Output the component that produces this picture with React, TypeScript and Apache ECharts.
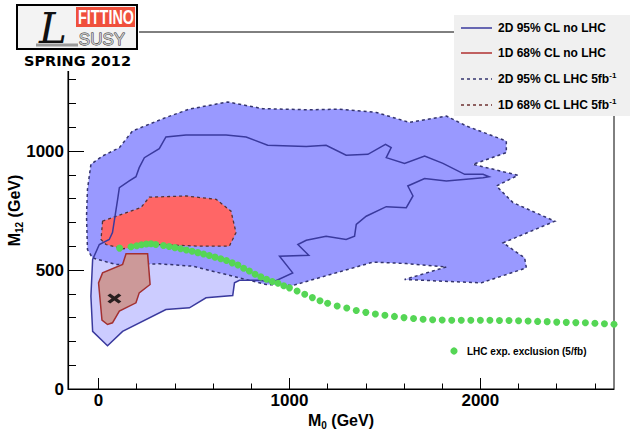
import React, { useEffect, useRef } from "react";
import * as echarts from "echarts";

// ---- axis ranges & ticks ----
const xRange = [-160, 2700];
const yRange = [0, 1500];
const xMajor = [0, 1000, 2000];
const xMinor = [200, 400, 600, 800, 1200, 1400, 1600, 1800, 2200, 2400, 2600];
const yMajor = [0, 500, 1000];
const yMinor = [100, 200, 300, 400, 600, 700, 800, 900, 1100, 1200, 1300, 1400];

// ---- 2D 95% CL no LHC (solid blue contour) ----
const noLhc95M0 = [47, -31, -40, -31, 4, 56, 73, 100, 109, 161, 196, 213, 240, 318, 353, 458, 668, 773, 886, 1088, 1192, 1297, 1411, 1503, 1533, 1507, 1603, 1708, 1804, 1918, 2014, 2045, 2014, 1822, 1708, 1620, 1647, 1612, 1507, 1402, 1350, 1341, 1297, 1192, 1088, 1044, 1101, 948, 1017, 912, 843, 738, 712, 703, 563, 476, 353, 126];
const noLhc95M12 = [182, 242, 390, 544, 607, 628, 657, 797, 846, 874, 892, 930, 972, 1010, 1059, 1067, 1067, 1059, 1024, 1019, 1024, 982, 986, 1028, 1014, 972, 948, 979, 948, 902, 902, 892, 888, 874, 884, 853, 811, 762, 766, 726, 692, 642, 628, 642, 625, 607, 562, 558, 488, 449, 457, 457, 446, 393, 383, 341, 334, 242];

// ---- 2D 95% CL LHC 5fb-1 (dashed blue contour) ----
const lhc95M0 = [-40, -58, -63, -58, -32, 91, 318, 493, 633, 773, 878, 1017, 1437, 1612, 1822, 1603, 2005, 2241, 2232, 2119, 2390, 2171, 2084, 2197, 1961, 2136, 2136, 1927, 1822, 1629, 1455, 1262, 1105, 860, 676, 476, 353, 178, 109, 21];
const lhc95M12 = [944, 839, 726, 586, 551, 523, 526, 516, 488, 460, 439, 435, 533, 527, 513, 460, 446, 509, 551, 614, 705, 783, 853, 898, 944, 993, 1042, 1105, 1147, 1120, 1162, 1176, 1173, 1178, 1206, 1176, 1141, 1084, 1014, 979];

// ---- 1D 68% CL LHC 5fb-1 (dashed red contour) ----
const lhc68M0 = [21, 13, 39, 126, 231, 318, 528, 685, 720, 694, 616, 458, 266, 222, 73];
const lhc68M12 = [705, 628, 607, 589, 600, 607, 600, 600, 657, 747, 797, 811, 806, 762, 720];

// ---- 1D 68% CL no LHC (solid red contour) ----
const noLhc68M0 = [144, 257, 270, 213, 196, 109, 73, 47, 18, 0, 21, 126];
const noLhc68M12 = [568, 568, 439, 404, 362, 327, 278, 271, 289, 446, 488, 523];

// ---- best fit point ----
const bestFitM0 = [83];
const bestFitM12 = [380];

// ---- LHC exp. exclusion (5/fb) ----
const exclM0 = [110, 170, 200, 225, 250, 275, 300, 340, 370, 400, 430, 460, 490, 520, 550, 580, 610, 640, 670, 700, 730, 760, 790, 820, 850, 880, 910, 940, 970, 1000, 1040, 1080, 1120, 1160, 1200, 1250, 1300, 1350, 1400, 1450, 1500, 1550, 1600, 1650, 1700, 1750, 1800, 1850, 1900, 1950, 2000, 2050, 2100, 2150, 2200, 2250, 2300, 2350, 2400, 2450, 2500, 2550, 2600, 2650, 2700];
const exclM12 = [592, 598, 602, 606, 609, 610, 607, 603, 599, 594, 589, 584, 579, 573, 567, 561, 554, 547, 540, 530, 521, 507, 496, 482, 471, 461, 452, 444, 434, 425, 412, 398, 384, 371, 360, 349, 340, 330, 322, 315, 310, 305, 300, 296, 293, 291, 290, 289, 289, 289, 289, 289, 288, 288, 287, 286, 284, 283, 281, 280, 279, 278, 276, 274, 272];

const legendItems = [
  { label: "2D 95% CL no LHC", sup: "", color: "#3a3a9e", dash: null },
  { label: "1D 68% CL no LHC", sup: "", color: "#b03030", dash: null },
  { label: "2D 95% CL LHC 5fb", sup: "-1", color: "#34346e", dash: [3, 3] },
  { label: "1D 68% CL LHC 5fb", sup: "-1", color: "#6e3030", dash: [3, 3] },
];

const FONT = "'Liberation Sans', Arial, Helvetica, sans-serif";

function polygonSeries(name: string, xs: number[], ys: number[], style: any, z: number) {
  return {
    type: "custom",
    name,
    z,
    silent: true,
    coordinateSystem: "cartesian2d",
    data: xs.map((x, i) => [x, ys[i]]),
    encode: { x: 0, y: 1 },
    renderItem: (params: any, api: any) => {
      if (params.dataIndex !== 0) return null;
      const points = xs.map((x, i) => api.coord([x, ys[i]]));
      return { type: "polygon", shape: { points }, style };
    },
  };
}

export default function App() {
  const ref = useRef<HTMLDivElement>(null);
  useEffect(() => {
    document.body.style.margin = "0";
    const chart = echarts.init(ref.current!, null, { renderer: "svg" });

    const legendGraphics: any[] = [
      { type: "rect", z: 100, shape: { x: 454, y: 15, width: 176, height: 101 }, style: { fill: "#f0f0f0" } },
    ];
    const legendY = [28, 53, 79, 105];
    legendItems.forEach((it, i) => {
      legendGraphics.push({
        type: "line",
        z: 101,
        shape: { x1: 461, y1: legendY[i], x2: 492, y2: legendY[i] },
        style: { stroke: it.color, lineWidth: 1.5, lineDash: it.dash || undefined },
      });
      legendGraphics.push({
        type: "text",
        z: 101,
        x: 498,
        y: legendY[i],
        style: {
          text: it.sup ? `{a|${it.label}}{s|${it.sup}}` : `{a|${it.label}}`,
          align: "left",
          verticalAlign: "middle",
          textAlign: "left",
          textVerticalAlign: "middle",
          fill: "#000",
          rich: {
            a: { fontFamily: FONT, fontWeight: "bold", fontSize: 12, lineHeight: 16, fill: "#000", color: "#000" },
            s: { fontFamily: FONT, fontWeight: "bold", fontSize: 8, lineHeight: 8, verticalAlign: "top", fill: "#000", color: "#000" },
          },
        },
      });
    });
    legendGraphics.push({ type: "circle", z: 101, shape: { cx: 454, cy: 351, r: 3.6 }, style: { fill: "#55d655" } });
    legendGraphics.push({
      type: "text",
      z: 101,
      x: 467,
      y: 351,
      style: {
        text: "LHC exp. exclusion (5/fb)",
        font: `bold 10px ${FONT}`,
        fill: "#000",
        align: "left",
        verticalAlign: "middle",
        textAlign: "left",
        textVerticalAlign: "middle",
      },
    });

    const logo: any[] = [
      { type: "rect", z: 100, shape: { x: 0, y: 0, width: 139, height: 71 }, style: { fill: "#ffffff" } },
      { type: "rect", z: 101, shape: { x: 17, y: 5, width: 120, height: 44 }, style: { fill: "#f3f3f3", stroke: "#000", lineWidth: 2 } },
      { type: "rect", z: 102, shape: { x: 76, y: 7, width: 59, height: 20 }, style: { fill: "#f0503c" } },
      {
        type: "text", z: 103, x: 106, y: 17.5, scaleX: 0.72,
        style: { text: "FITTINO", font: `bold 20px ${FONT}`, fill: "#fff", align: "center", verticalAlign: "middle", textAlign: "center", textVerticalAlign: "middle" },
      },
      { type: "line", z: 102, shape: { x1: 36, y1: 45, x2: 78, y2: 45 }, style: { stroke: "#9a9a9a", lineWidth: 3 } },
      {
        type: "text", z: 104, x: 53, y: 28,
        style: { text: "L", font: `italic 42px 'DejaVu Serif', serif`, fill: "#111", align: "center", verticalAlign: "middle", textAlign: "center", textVerticalAlign: "middle" },
      },
      {
        type: "text", z: 103, x: 102, y: 39,
        style: { text: "SUSY", font: `17px ${FONT}`, fill: "#c4c4c4", stroke: "#222", lineWidth: 0.8, align: "center", verticalAlign: "middle", textAlign: "center", textVerticalAlign: "middle" },
      },
      {
        type: "text", z: 103, x: 77.5, y: 61,
        style: { text: "SPRING 2012", font: `bold 14.5px 'DejaVu Sans', sans-serif`, fill: "#000", align: "center", verticalAlign: "middle", textAlign: "center", textVerticalAlign: "middle" },
      },
    ];

    const axisText = { fontFamily: FONT, fontWeight: "bold", fontSize: 17, color: "#000", formatter: (v: number) => String(v) };

    chart.setOption({
      animation: false,
      backgroundColor: "#ffffff",
      grid: {
        left: 68, right: 16, top: 32, bottom: 43,
        show: true, borderColor: "#000", borderWidth: 1, backgroundColor: "transparent",
        containLabel: false, outerBoundsMode: "none",
      },
      xAxis: [
        {
          type: "value", min: xRange[0], max: xRange[1], position: "bottom",
          name: "{m|M}{s|0}{m| (GeV)}", nameLocation: "middle", nameGap: 21, nameMoveOverlap: false,
          nameTextStyle: {
            rich: {
              m: { fontFamily: FONT, fontWeight: "bold", fontSize: 16, lineHeight: 20, color: "#000" },
              s: { fontFamily: FONT, fontWeight: "bold", fontSize: 10, lineHeight: 10, verticalAlign: "bottom", color: "#000" },
            },
          },
          axisLine: { show: true, onZero: false, lineStyle: { color: "#000", width: 1.2 } },
          axisTick: { show: true, inside: true, length: 11, customValues: xMajor, lineStyle: { color: "#000", width: 1 } },
          axisLabel: { show: true, customValues: xMajor, margin: 3, ...axisText },
          splitLine: { show: false },
        },
        {
          type: "value", min: xRange[0], max: xRange[1], position: "bottom",
          axisLine: { show: false, onZero: false },
          axisTick: { show: true, inside: true, length: 5.5, customValues: xMinor, lineStyle: { color: "#000", width: 1 } },
          axisLabel: { show: false },
          splitLine: { show: false },
        },
      ],
      yAxis: [
        {
          type: "value", min: yRange[0], max: yRange[1], position: "left",
          name: "{m|M}{s|12}{m| (GeV)}", nameLocation: "middle", nameGap: 44, nameRotate: 90, nameMoveOverlap: false,
          nameTextStyle: {
            rich: {
              m: { fontFamily: FONT, fontWeight: "bold", fontSize: 16, lineHeight: 20, color: "#000" },
              s: { fontFamily: FONT, fontWeight: "bold", fontSize: 10, lineHeight: 10, verticalAlign: "bottom", color: "#000" },
            },
          },
          axisLine: { show: true, onZero: false, lineStyle: { color: "#000", width: 1.2 } },
          axisTick: { show: true, inside: true, length: 16, customValues: yMajor, lineStyle: { color: "#000", width: 1 } },
          axisLabel: { show: true, customValues: yMajor, margin: 4, ...axisText },
          splitLine: { show: false },
        },
        {
          type: "value", min: yRange[0], max: yRange[1], position: "left",
          axisLine: { show: false, onZero: false },
          axisTick: { show: true, inside: true, length: 8, customValues: yMinor, lineStyle: { color: "#000", width: 1 } },
          axisLabel: { show: false },
          splitLine: { show: false },
        },
      ],
      series: [
        polygonSeries("2D 95% CL no LHC fill", noLhc95M0, noLhc95M12, { fill: "#ccccff", stroke: "none", lineWidth: 0 }, 1),
        polygonSeries("2D 95% CL LHC 5fb-1", lhc95M0, lhc95M12, { fill: "#9999ff", stroke: "#34346e", lineWidth: 1.5, lineDash: [3, 3] }, 2),
        polygonSeries("1D 68% CL LHC 5fb-1", lhc68M0, lhc68M12, { fill: "#ff6666", stroke: "#553333", lineWidth: 1.3, lineDash: [3, 3] }, 3),
        polygonSeries("1D 68% CL no LHC fill", noLhc68M0, noLhc68M12, { fill: "#cc9999", stroke: "none", lineWidth: 0 }, 4),
        polygonSeries("2D 95% CL no LHC", noLhc95M0, noLhc95M12, { fill: "none", stroke: "#3a3a9e", lineWidth: 1.5 }, 5),
        polygonSeries("1D 68% CL no LHC", noLhc68M0, noLhc68M12, { fill: "none", stroke: "#a33030", lineWidth: 1.5 }, 6),
        {
          type: "scatter", name: "LHC exp. exclusion (5/fb)", z: 7, silent: true,
          data: exclM0.map((x, i) => [x, exclM12[i]]),
          symbol: "circle", symbolSize: 7,
          itemStyle: { color: "#55d655", opacity: 1 },
        },
        {
          type: "scatter", name: "best fit", z: 8, silent: true,
          data: bestFitM0.map((x, i) => [x, bestFitM12[i]]),
          symbol: "path://M2,0 L5,3 L8,0 L10,2 L7,5 L10,8 L8,10 L5,7 L2,10 L0,8 L3,5 L0,2 Z",
          symbolSize: [14, 10],
          itemStyle: { color: "#000" },
        },
      ],
      graphic: { elements: [...logo, ...legendGraphics] },
    });
    return () => chart.dispose();
  }, []);
  return <div ref={ref} style={{ width: 630, height: 432, position: "absolute", left: 0, top: 0 }} />;
}
